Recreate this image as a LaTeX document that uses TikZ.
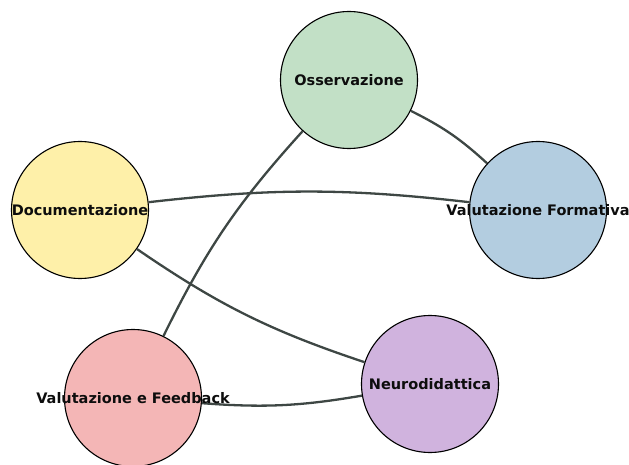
\documentclass[tikz,border=0pt]{standalone}
\usepackage{fontspec}
\setmainfont{DejaVu Sans}
\definecolor{edgecol}{HTML}{3E4744}
\definecolor{cgreen}{HTML}{C2E0C6}
\definecolor{cyellow}{HTML}{FEF0A9}
\definecolor{cblue}{HTML}{B3CDE0}
\definecolor{cpink}{HTML}{F4B6B6}
\definecolor{cpurple}{HTML}{D0B3DE}
\begin{document}
\begin{tikzpicture}[x=1pt,y=1pt,
  bubble/.style={circle,draw=black,line width=1.1pt,minimum size=137pt,inner sep=0pt},
  link/.style={draw=edgecol,line width=2.3pt},
  lbl/.style={font=\bfseries\fontsize{14.5}{16}\selectfont,text=black!95,inner sep=0pt}]
\useasboundingbox (0,0) rectangle (629,464);
\node[bubble,fill=cgreen]  (oss) at (349,384) {};
\node[bubble,fill=cyellow] (doc) at (80,254) {};
\node[bubble,fill=cblue]   (vf)  at (538,254) {};
\node[bubble,fill=cpurple] (neu) at (430,80) {};
\node[bubble,fill=cpink]   (vaf) at (133,66) {};
\draw[link] (doc) to[bend left=6.5] (vf);
\draw[link] (oss) to[bend left=8] (vf);
\draw[link] (doc) to[bend right=8] (neu);
\draw[link] (oss) to[bend right=8] (vaf);
\draw[link] (vaf) to[bend right=7] (neu);
\node[lbl] (tOss) at (oss) {Osservazione};
\node[lbl] (tDoc) at (doc) {Documentazione};
\node[lbl] (tVf)  at (vf)  {Valutazione Formativa};
\node[lbl] (tNeu) at (neu) {Neurodidattica};
\node[lbl] (tVaf) at (vaf) {Valutazione e Feedback};
\end{tikzpicture}
\end{document}
